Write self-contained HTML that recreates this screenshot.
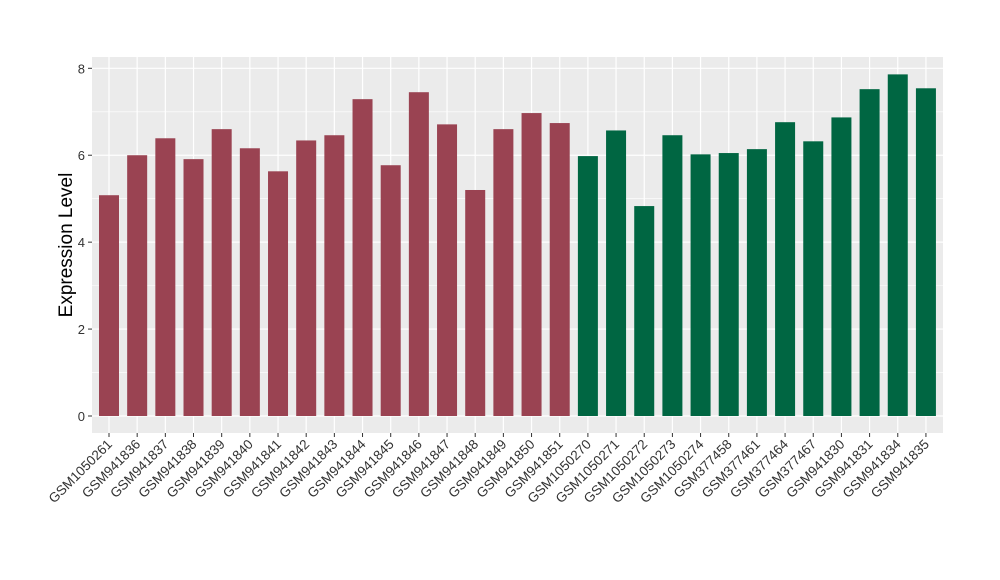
<!DOCTYPE html>
<html><head><meta charset="utf-8"><style>body{margin:0;background:#fff}svg{display:block;font-family:"Liberation Sans",sans-serif}</style></head>
<body>
<svg id="chart" width="1000" height="580" viewBox="0 0 1000 580"></svg>
<script>
const categories=["GSM1050261","GSM941836","GSM941837","GSM941838","GSM941839","GSM941840","GSM941841","GSM941842","GSM941843","GSM941844","GSM941845","GSM941846","GSM941847","GSM941848","GSM941849","GSM941850","GSM941851","GSM1050270","GSM1050271","GSM1050272","GSM1050273","GSM1050274","GSM377458","GSM377461","GSM377464","GSM377467","GSM941830","GSM941831","GSM941834","GSM941835"];
const values=[5.08,6.0,6.39,5.91,6.6,6.16,5.63,6.34,6.46,7.29,5.77,7.45,6.71,5.2,6.6,6.97,6.74,5.98,6.57,4.83,6.46,6.02,6.05,6.14,6.76,6.32,6.87,7.52,7.86,7.54];
const groups=[0,0,0,0,0,0,0,0,0,0,0,0,0,0,0,0,0,1,1,1,1,1,1,1,1,1,1,1,1,1];
const yTicks=[0,2,4,6,8];
const colors=["#9A4352","#006642"];
const NS="http://www.w3.org/2000/svg";
const svg=document.getElementById('chart');
const P={l:92,r:943,t:57,b:433};
const y=v=>416-v*(416-68.3)/8;
const x=i=>109+i*28.17;
function mk(t,a,p){const e=document.createElementNS(NS,t);for(const k in a)e.setAttribute(k,a[k]);(p||svg).appendChild(e);return e;}
const bg=mk('rect',{x:P.l,y:P.t,width:P.r-P.l,height:P.b-P.t,fill:'#EBEBEB'});


for(let i=0;i<yTicks.length-1;i++){const m=(yTicks[i]+yTicks[i+1])/2;const g=mk('line',{x1:P.l,x2:P.r,y1:y(m),y2:y(m),stroke:'#fff','stroke-width':0.6});

}
yTicks.forEach(t=>{const g=mk('line',{x1:P.l,x2:P.r,y1:y(t),y2:y(t),stroke:'#fff','stroke-width':1.2});


const tk=mk('line',{x1:P.l-4,x2:P.l,y1:y(t),y2:y(t),stroke:'#333'});


const lb=mk('text',{x:P.l-7,y:y(t)+5,'text-anchor':'end','font-size':13,fill:'#333'});lb.textContent=t;

});
categories.forEach((c,i)=>{const g=mk('line',{x1:x(i),x2:x(i),y1:P.t,y2:P.b,stroke:'#fff','stroke-width':1.2});

});
categories.forEach((c,i)=>{
const b=mk('rect',{x:x(i)-10,y:y(values[i]),width:20,height:y(0)-y(values[i]),fill:colors[groups[i]]});


const tk=mk('line',{x1:x(i),x2:x(i),y1:P.b,y2:P.b+4,stroke:'#333'});


const lb=mk('text',{x:x(i)+4,y:P.b+12,'text-anchor':'end','font-size':13.5,fill:'#333',transform:`rotate(-45 ${x(i)+4} ${P.b+12})`});lb.textContent=c;

});
const yt=mk('text',{x:72,y:245,'text-anchor':'middle','font-size':19,fill:'#000',transform:'rotate(-90 72 245)'});yt.textContent='Expression Level';


</script>
</body></html>
